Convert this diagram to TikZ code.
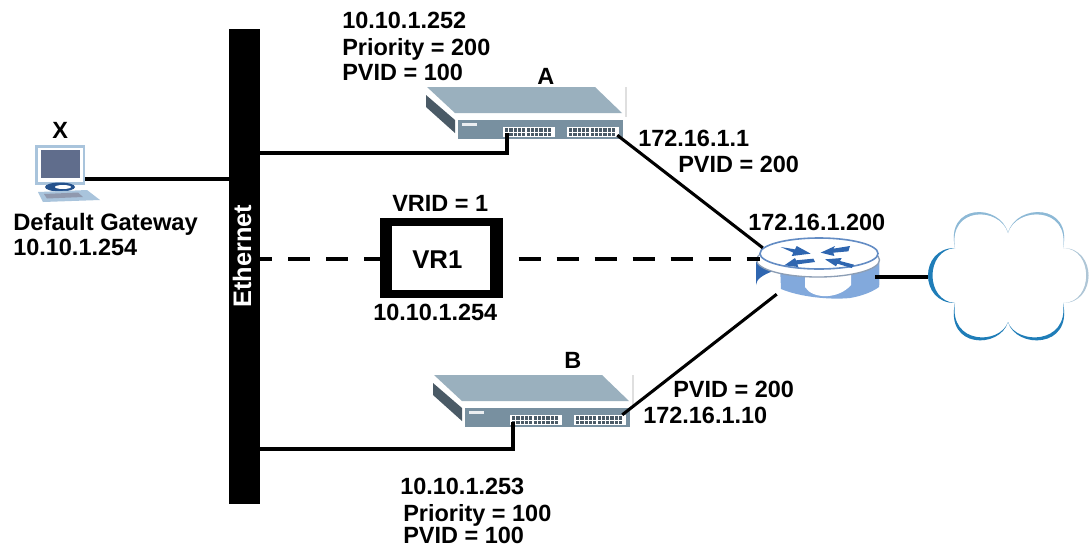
\documentclass[tikz,border=0pt]{standalone}
\usepackage{fontspec}
\setmainfont{Liberation Sans}
\definecolor{swtop}{HTML}{9AB0BE}
\definecolor{swside}{HTML}{4A5A66}
\definecolor{swfront}{HTML}{7890A0}
\definecolor{rblue}{HTML}{2F66B0}
\definecolor{rlight}{HTML}{82A9DC}
\definecolor{cdark}{HTML}{1F7DB8}
\definecolor{clight}{HTML}{8DB9D6}
\definecolor{cgrey}{HTML}{AFC6D6}
\definecolor{pcframe}{HTML}{A9C4DC}
\definecolor{pcscreen}{HTML}{606D8C}
\tikzset{
  x=0.75pt,y=-0.75pt,
  lbl/.style={font=\fontsize{17.6}{21}\selectfont\bfseries,inner sep=0pt,anchor=base west,align=left,text=black},
  wire/.style={draw=black,line width=2.3pt},
  dash left/.style={wire,dash pattern=on 16.5pt off 12pt,dash phase=7.5pt},
  dash right/.style={wire,dash pattern=on 16.5pt off 12pt,dash phase=17.25pt},
  pt/.style={inner sep=0pt,minimum size=0pt},
  arrowglyph/.style={fill=rblue,draw=none},
  pics/switchbox/.style={code={
    \draw[gray!25,line width=0.8pt] (200,-26) -- (200,4);
    \fill[swtop] (1,-26) -- (169,-26) -- (196,0) -- (29,0) -- cycle;
    \fill[swside] (0,-18) -- (29,7) -- (29,20) -- (0,-6) -- cycle;
    \fill[swfront] (32,7) rectangle (197,26);
    \fill[white!85!swfront] (36,10) rectangle (51,13);
    \fill[white] (77,14) rectangle (129,24);
    \fill[white] (141,14) rectangle (193,24);
    \foreach \x in {79,83.3,...,126}{\fill[swside] (\x,15.2) rectangle +(3.2,3.4);\fill[swside] (\x,19.6) rectangle +(3.2,3.4);}
    \foreach \x in {143,147.3,...,190}{\fill[swside] (\x,15.2) rectangle +(3.2,3.4);\fill[swside] (\x,19.6) rectangle +(3.2,3.4);}
  }}
}
\begin{document}
\begin{tikzpicture}
\useasboundingbox (0,0) rectangle (1089,547);
\fill[white] (0,0) rectangle (1089,547);
% cloud lobes (tapered crescents)
\fill[clight!35] (955,248) .. controls (945,203) and (1000,203) .. (1008,233) .. controls (1016,203) and (1073,203) .. (1063,248) .. controls (1097,248) and (1097,303) .. (1063,303) .. controls (1073,349) and (1016,349) .. (1008,322) .. controls (1000,349) and (945,349) .. (955,303) .. controls (919,303) and (919,248) .. (955,248) -- cycle;
\fill[white] (955,248) .. controls (948,206) and (1000,206) .. (1008,233) .. controls (1016,206) and (1070,206) .. (1063,248) .. controls (1094,248) and (1094,303) .. (1063,303) .. controls (1070,346) and (1016,346) .. (1008,322) .. controls (1000,346) and (948,346) .. (955,303) .. controls (924,303) and (924,248) .. (955,248) -- cycle;
\fill[clight] (955,248) .. controls (945,203) and (1000,203) .. (1008,233) .. controls (1000,206) and (948,206) .. (955,248) -- cycle;
\fill[clight] (1008,233) .. controls (1016,203) and (1073,203) .. (1063,248) .. controls (1070,206) and (1016,206) .. (1008,233) -- cycle;
\fill[cgrey] (1063,248) .. controls (1097,248) and (1097,303) .. (1063,303) .. controls (1094,303) and (1094,248) .. (1063,248) -- cycle;
\fill[cdark] (1063,303) .. controls (1073,349) and (1016,349) .. (1008,322) .. controls (1016,345) and (1069,345) .. (1063,303) -- cycle;
\fill[cdark] (1008,322) .. controls (1000,349) and (945,349) .. (955,303) .. controls (949,345) and (1000,345) .. (1008,322) -- cycle;
\fill[cdark] (955,303) .. controls (919,303) and (919,248) .. (955,248) .. controls (925,250) and (925,301) .. (955,303) -- cycle;
\coordinate (cloudL) at (928,277);
% bar
\node[pt,fill=black,minimum width=23.25pt,minimum height=356pt,anchor=north west] (bar) at (229,29) {};
\node[font=\fontsize{19}{22}\selectfont\bfseries,text=white,rotate=90,inner sep=0pt] (eth) at (242,256) {Ethernet};
% computer
\fill[pcframe] (35,145) rectangle (85,185);
\fill[white] (38,148) rectangle (83,182);
\fill[pcscreen] (41,150) rectangle (80,178);
\fill[rblue!80!black] (60,187) ellipse [x radius=15, y radius=4.5];
\fill[white] (63,187) ellipse [x radius=8, y radius=2];
\fill[pcframe] (38,192) -- (87,190) -- (100,200) -- (43,202) -- cycle;
\fill[pcscreen!70] (44,194) -- (78,192.5) -- (83,197) -- (47,198.5) -- cycle;
\node[pt] (pc) at (85,179) {};
% switches
\pic at (426,113) {switchbox};
\pic at (433,401) {switchbox};
\node[pt] (aport) at (507,133) {};
\node[pt] (aup) at (617,135) {};
\node[pt] (bport) at (513,422) {};
\node[pt] (bup) at (622,415) {};
% router
\fill[rblue] (756,262) -- (756,285) arc[start angle=180,end angle=360,x radius=61.5,y radius=20] -- (879,262) -- cycle;
\fill[rlight] (780,265) -- (781,289) .. controls (800,297) and (830,300) .. (850,298) .. controls (862,296) and (872,292) .. (879,287) -- (879,262) -- cycle;
\fill[white] (805,270) -- (805,287) .. controls (812,299) and (838,300) .. (851,285) -- (851,270) -- cycle;
\fill[white,draw=rblue!45!gray!70,line width=1pt] (818,260) ellipse [x radius=61.5, y radius=17];
\fill[white,draw=rblue!75,line width=1.2pt] (819,253.5) ellipse [x radius=59, y radius=15.5];
\begin{scope}[shift={(750,232)},x=0.25pt,y=-0.25pt]
\fill[arrowglyph] (92,45) -- (135,52) -- (140,42) -- (182,65) -- (125,72) -- (130,62) -- cycle;
\fill[arrowglyph] (212,62) -- (255,42) -- (250,50) -- (300,42) -- (295,58) -- (250,62) -- (253,72) -- cycle;
\fill[arrowglyph] (103,100) -- (135,78) -- (138,85) -- (190,80) -- (195,90) -- (142,97) -- (145,105) -- cycle;
\fill[arrowglyph] (225,82) -- (275,78) -- (270,87) -- (312,98) -- (305,108) -- (262,95) -- (258,103) -- cycle;
\end{scope}
\node[pt] (rA) at (763,248) {};
\node[pt] (rdash) at (760,259) {};
\node[pt] (rB) at (777,294) {};
\node[pt] (rC) at (875,277) {};
% VR1
\node[pt,fill=black,minimum width=92.25pt,minimum height=60pt,anchor=north west] (vr) at (380,218) {};
\node[pt,fill=white,minimum width=73.5pt,minimum height=48pt,anchor=north west] (vrin) at (392,226) {};
\node[lbl,font=\fontsize{19.3}{22}\selectfont\bfseries] (vrt) at (412,268) {VR1};
% connectors
\node[pt] (pcb) at (229,179) {};
\node[pt] (abar) at (260,153) {};
\node[pt] (bbar) at (260,449) {};
\node[pt] (dbar) at (260,259) {};
\draw[wire] (pc) -- (pcb);
\draw[wire] (abar) -| (aport);
\draw[wire] (bbar) -| (bport);
\draw[wire] (aup) -- (rA);
\draw[wire] (bup) -- (rB);
\draw[wire] (rC) -- (cloudL);
\draw[dash left] (dbar) -- (vr.west |- dbar);
\draw[dash right] (vr.east |- dbar) -- (rdash);
% labels
\node[lbl] (t1) at (342,28) {10.10.1.252};
\node[lbl] (t2) at (342,55) {Priority = 200};
\node[lbl] (t3) at (342,80) {PVID = 100};
\node[lbl] (tA) at (537,84) {A};
\node[lbl] (t4) at (638,146) {172.16.1.1};
\node[lbl] (t5) at (678,172) {PVID = 200};
\node[lbl] (t6) at (748,230) {172.16.1.200};
\node[lbl] (tX) at (52,138) {X};
\node[lbl,font=\fontsize{17.8}{21}\selectfont\bfseries] (t7) at (13,230) {Default Gateway};
\node[lbl] (t8) at (13,255) {10.10.1.254};
\node[lbl] (t9) at (392,211) {VRID = 1};
\node[lbl] (t10) at (373,320) {10.10.1.254};
\node[lbl] (tB) at (564,368) {B};
\node[lbl] (t11) at (673,397) {PVID = 200};
\node[lbl] (t12) at (643,423) {172.16.1.10};
\node[lbl] (t13) at (400,494) {10.10.1.253};
\node[lbl] (t14) at (403,521) {Priority = 100};
\node[lbl] (t15) at (403,543) {PVID = 100};
\end{tikzpicture}
\end{document}
